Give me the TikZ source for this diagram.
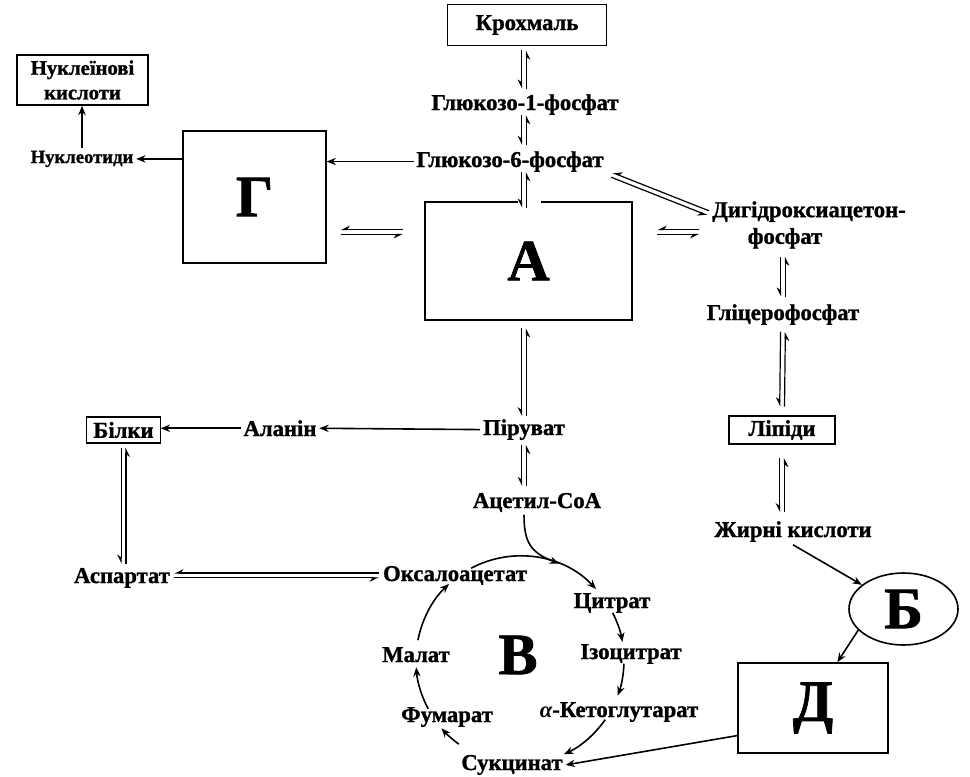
\documentclass[tikz,border=0pt]{standalone}
\usepackage{fontspec}
\setmainfont{Liberation Serif}[BoldFeatures={FakeBold=1.2}]
\usetikzlibrary{arrows.meta,calc,shapes.geometric}

% two half-headed lines: from, to, gap at from, gap at to
\newcommand\eqarr[4]{%
  \draw[harp,shorten <=#3,shorten >=#4] ($(#1)!1.8pt!-90:(#2)$) -- ($(#2)!1.8pt!90:(#1)$);
  \draw[harp,shorten <=#4,shorten >=#3] ($(#2)!1.8pt!-90:(#1)$) -- ($(#1)!1.8pt!90:(#2)$);}

\begin{document}
\begin{tikzpicture}[x=0.75pt,y=-0.75pt,
  every node/.style={font=\fontsize{17}{20}\selectfont\bfseries,inner sep=2pt},
  lbl/.style={anchor=base},
  box/.style={draw,line width=1.2pt},
  big/.style={font=\fontsize{44}{44}\selectfont\bfseries},
  arr/.style={-{Stealth[length=7pt,width=5.5pt]},line width=1.2pt},
  harp/.style={-{Stealth[harpoon,swap,length=6pt,width=6pt]},line width=0.9pt}]
\useasboundingbox (0,0) rectangle (970,776);

% carbohydrates
\node[box,minimum width=119pt,minimum height=31pt] (krox) at (527,25) {Крохмаль};
\node[lbl] (g1p) at (525,110) {Глюкозо-1-фосфат};
\node[lbl] (g6p) at (510,167) {Глюкозо-6-фосфат};
\node[big,minimum width=155pt,minimum height=88.5pt] (a) at (528.5,261) {А};
\draw[line width=1.2pt] ($(a.north)+(-11,0)$) -- (a.north west) -- (a.south west)
  -- (a.south east) -- (a.north east) -- ($(a.north)+(12,0)$);

\node[box,big,minimum width=107pt,minimum height=99pt] (g) at (254.5,197) {Г};
\node[lbl,font=\fontsize{14}{16}\selectfont\bfseries] (nuc) at (82,163) {Нуклеотиди};
\node[box,align=center,font=\fontsize{15.5}{18.5}\selectfont\bfseries,
  minimum width=98pt,minimum height=37.5pt] (nk) at (82.5,80) {Нуклеїнові\\кислоти};

% lipids
\node[align=center] (dhap) at (809,225) {Дигідроксиацетон-\\фосфат\hspace*{36pt}};
\node[lbl] (glyc) at (783,320) {Гліцерофосфат};
\node[box,line width=0.8pt,minimum width=79.5pt,minimum height=21pt] (lip) at (782,430) {Ліпіди};
\node[lbl] (fat) at (793,537) {Жирні кислоти};
\node[draw,ellipse,big,line width=1.2pt,minimum width=81.75pt,minimum height=54pt,inner sep=0pt] (b) at (903.5,609) {Б};
\node[box,big,minimum width=112.5pt,minimum height=67.5pt] (d) at (813,708) {Д};

% proteins
\node[lbl] (pir) at (524,435) {Піруват};
\node[lbl] (acoa) at (537,508) {Ацетил-CoA};
\node[lbl] (ala) at (280,436) {Аланін};
\node[box,line width=0.8pt,inner sep=1pt,minimum width=55pt,minimum height=19.5pt] (bilki) at (123.5,430) {Білки};
\node[lbl] (asp) at (122,583) {Аспартат};

% cycle
\coordinate (cyc) at (520,660);
\node[big] (v) at (518,655) {В};
\node[lbl] (oxa) at (455,581) {Оксалоацетат};
\node[lbl] (cit) at (612,608) {Цитрат};
\node[lbl] (izo) at (631,659) {Ізоцитрат};
\node[lbl] (akg) at (619,717) {{\itshape α}-Кетоглутарат};
\node[lbl] (suk) at (512,770) {Сукцинат};
\node[lbl] (fum) at (447,722) {Фумарат};
\node[lbl] (mal) at (416,662) {Малат};

\draw[arr] (g6p.west) -- (g6p.west -| g.east);
\draw[arr] (g.west |- nuc.east) -- (nuc.east);
\draw[arr] (nuc.north) -- (nuc.north |- nk.south);
\draw[arr] (pir.west) -- (ala.east);
\draw[arr] (ala.west) -- (ala.west -| bilki.east);
\draw[arr] (fat.south) -- (b);
\draw[arr] (b.-155) -- (d.62);
\draw[arr] (d.200) -- (suk.east);

\coordinate (ax) at (524,0);
\coordinate (ey) at (0,232);
\coordinate (cin) at ($(cyc)+(-68:104)$);
\draw[arr] (acoa.south -| ax) .. controls +(0,28) and +(-28,-11) .. (cin);
\foreach \s/\e in {-118/-43,-27/-10,2/20,35/65,126/139,152/176,191/227}
  \draw[arr] ($(cyc)+(\s:104)$) arc[start angle=\s,end angle=\e,radius=104];

% reversible steps
\coordinate (ain) at ($(a.north -| ax)+(0,6)$);
\coordinate (d1) at (612,175);
\coordinate (d2) at (708,213);
\eqarr{krox.south -| ax}{g1p.north -| ax}{3pt}{2pt}
\eqarr{g1p.south -| ax}{g6p.north -| ax}{-2pt}{2.5pt}
\eqarr{g6p.south -| ax}{ain}{-2pt}{0pt}
\eqarr{a.west |- ey}{g.east |- ey}{16.5pt}{10.5pt}
\eqarr{dhap.west |- ey}{a.east |- ey}{7.5pt}{19pt}
\eqarr{d2}{d1}{0pt}{0pt}
\eqarr{glyc.north |- dhap.south}{glyc.north}{3.75pt}{3.5pt}
\eqarr{glyc.south}{lip.north}{3pt}{6.75pt}
\eqarr{lip.south}{lip.south |- fat.north}{10pt}{4.5pt}
\eqarr{a.south -| ax}{pir.north -| ax}{6pt}{0pt}
\eqarr{pir.south -| ax}{acoa.north -| ax}{1.5pt}{3pt}
\eqarr{bilki.south}{bilki.south |- asp.north}{3pt}{1pt}
\eqarr{oxa.west}{oxa.west -| asp.east}{1pt}{1pt}
\end{tikzpicture}
\end{document}
